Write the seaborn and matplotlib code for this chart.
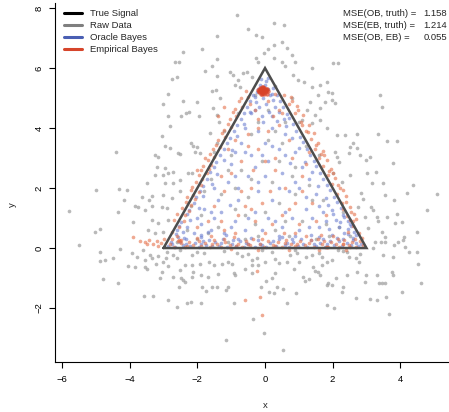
import numpy as np
import pandas as pd
import matplotlib
matplotlib.use("Agg")
import matplotlib.pyplot as plt
from matplotlib.lines import Line2D
import seaborn as sns

# true signal: triangle
triangle_x = [-3, 0, 3, -3]
triangle_y = [0, 6, 0, 0]

# raw data
raw_points = [
    # below the triangle
    (-5.5, 0.1), (-4.88, -0.13), (-4.88, -0.43), (-4.73, -0.4), (-4.8, -1.03), (-4.35, -1.17),
    (-4.5, -0.33), (-4.29, -0.03), (-4.05, -0.6), (-3.93, -0.17), (-3.85, -0.63), (-3.8, -0.3),
    (-3.6, -0.07), (-3.55, -0.4), (-3.55, -0.63), (-3.5, -0.7), (-3.58, -1.6), (-3.31, -1.6),
    (-3.4, -0.23), (-3.34, -0.33), (-3.22, -0.53), (-3.17, -0.27), (-3.05, -0.8), (-3.1, -1.0),
    (-3.02, -0.47), (-2.93, -0.33), (-2.87, -0.6), (-2.87, -1.73), (-2.72, -0.97), (-2.72, -0.23),
    (-2.6, -0.33), (-2.6, -1.97), (-2.54, -1.3), (-2.51, -0.73), (-2.48, -1.0), (-2.43, -1.07),
    (-2.37, -1.13), (-2.37, -0.57), (-2.31, -1.83), (-2.19, -1.8), (-2.16, -0.57), (-2.13, -0.8),
    (-2.16, -0.97), (-2.16, -0.23), (-2.01, -0.13), (-1.92, -0.53), (-1.89, -0.9), (-1.89, -1.83),
    (-1.86, -1.3), (-1.75, -1.43), (-1.69, -0.97), (-1.66, -0.47), (-1.57, -1.3), (-1.51, -0.57),
    (-1.42, -1.3), (-1.39, -0.87), (-1.27, -0.53), (-1.15, -3.07), (-1.15, -1.4), (-1.09, -1.3),
    (-1.09, -0.47), (-0.98, -0.53), (-0.92, -1.83), (-0.92, -0.83), (-0.89, -0.9), (-0.83, -0.17),
    (-0.68, -0.27), (-0.59, -0.7), (-0.38, -0.57), (-0.38, -0.83), (-0.36, -2.37), (-0.38, -0.4),
    (-0.03, -2.83), (0.53, -3.4), (0.65, -1.83), (1.83, -1.9), (2.04, -2.0), (3.67, -2.2),
    (3.3, -1.73), (-0.24, -0.33), (-0.2, -0.57), (0.0, -0.47), (0.03, -1.1), (0.2, -1.0),
    (0.3, -0.83), (0.35, -1.3), (-0.12, -1.3), (0.12, -1.47), (0.27, -1.5), (0.53, -1.37),
    (0.3, -0.37), (0.41, -0.5), (0.65, -0.47), (0.74, -0.23), (0.86, -0.7), (0.95, -0.17),
    (1.0, -0.47), (0.92, -1.5), (1.12, -0.97), (1.18, -1.1), (1.3, -1.03), (1.39, -0.23),
    (1.42, -0.63), (1.48, -0.77), (1.57, -0.8), (1.63, -0.9), (1.69, -0.3), (1.69, -0.57),
    (1.83, -0.47), (1.83, -1.23), (1.86, -1.17), (1.98, -1.23), (1.98, -0.4), (2.1, -1.0),
    (2.28, -1.47), (2.31, -1.3), (2.16, -0.07), (2.43, -0.13), (2.43, -0.9), (2.49, -0.3),
    (2.69, -0.33), (2.72, -0.8), (2.78, -0.47), (2.69, -1.67), (2.96, -1.13), (2.99, -0.9),
    (3.1, -1.7), (3.19, 0.0), (3.31, -0.9), (3.37, -1.17), (3.46, -1.17), (3.49, -0.23),
    (3.55, -1.17), (3.58, -1.63), (3.76, -0.8), (3.79, -0.9), (3.79, -0.3), (4.05, -1.47),
    (4.14, 0.03), (4.26, -0.13), (4.49, -0.13), (4.53, -0.53), (4.62, -1.17), (3.43, 0.2),
    (3.55, 0.2), (3.82, 0.1), (4.08, 0.27),
    (-2.5, -0.08), (-1.8, -0.15), (-1.2, -0.1), (-0.5, -0.2), (0.2, -0.12), (0.9, -0.08),
    (1.6, -0.16), (2.3, -0.1), (2.8, -0.2), (-2.9, -0.12), (-0.1, -0.05), (1.2, -0.3),
    # right of the triangle
    (1.63, 4.27), (1.83, 4.0), (2.13, 3.77), (2.37, 3.77), (2.72, 3.8), (3.34, 3.8),
    (3.61, 3.57), (3.9, 3.57), (2.51, 3.37), (2.6, 3.5), (2.72, 3.33), (2.81, 3.1),
    (2.99, 2.93), (3.1, 3.03), (2.13, 3.03), (2.07, 3.2), (2.19, 2.87), (2.49, 3.17),
    (3.79, 2.83), (3.02, 2.5), (3.28, 2.53), (2.51, 2.43), (2.28, 2.2), (3.16, 2.17),
    (3.49, 2.17), (4.38, 2.1), (5.09, 1.8), (4.2, 1.83), (3.55, 1.77), (2.84, 1.83),
    (2.9, 1.63), (3.82, 1.6), (4.79, 1.27), (3.9, 1.13), (2.96, 1.03), (3.31, 1.03),
    (3.61, 1.03), (3.34, 0.9), (4.05, 0.87), (3.85, 0.83), (4.49, 0.53), (3.05, 0.67),
    (3.46, 0.53), (3.55, 0.37), (4.11, 0.37), (3.25, 0.2), (3.93, 0.2), (2.75, 1.37),
    (3.13, 1.37), (3.19, 1.27),
    # above the triangle
    (-1.42, 7.07), (-2.43, 6.53), (-1.86, 6.63), (-2.66, 6.2), (-2.54, 6.2), (-2.75, 5.63),
    (-2.6, 5.7), (-2.87, 5.13), (-3.02, 4.8), (-2.43, 4.9), (-2.01, 4.87), (-2.87, 4.4),
    (-2.48, 4.4), (-2.34, 4.5), (-2.25, 4.53), (-1.95, 4.4), (-1.78, 5.9), (-1.57, 6.07),
    (-1.42, 6.3), (-1.42, 5.73), (-1.57, 5.23), (-1.45, 5.27), (-1.33, 5.0), (-1.54, 4.67),
    (-1.42, 4.43), (-0.83, 7.77), (0.27, 7.5), (0.56, 7.43), (-0.5, 7.3), (-0.27, 7.1),
    (-0.09, 7.03), (0.5, 6.87), (0.27, 6.77), (0.65, 6.67), (0.09, 6.63), (-0.03, 6.5),
    (-0.27, 6.33), (-0.21, 6.2), (0.27, 6.33), (0.5, 6.2), (0.8, 6.43), (0.89, 6.2),
    (0.59, 6.07), (2.01, 6.17), (2.16, 6.17), (1.39, 6.0), (-1.04, 5.87), (-0.95, 5.77),
    (-0.65, 5.83), (-0.53, 5.87), (-0.38, 5.7), (-0.8, 5.6), (-0.89, 5.43), (-0.74, 5.37),
    (0.83, 5.77), (0.98, 5.6), (1.15, 5.53), (1.39, 5.37), (1.63, 5.43), (1.83, 5.53),
    (1.86, 5.2), (1.57, 5.1), (1.98, 5.17), (1.78, 4.87), (1.98, 4.93), (2.07, 4.83),
    (1.33, 4.87), (1.24, 4.6), (1.48, 4.43), (1.63, 4.67), (1.09, 4.27), (1.39, 4.17),
    (3.4, 5.1), (3.46, 4.7),
    # left of the triangle
    (-2.81, 4.07), (-3.05, 3.73), (-4.41, 3.2), (-3.25, 3.1), (-2.96, 3.4), (-2.81, 3.33),
    (-2.57, 3.17), (-2.51, 3.13), (-2.19, 3.5), (-2.13, 3.4), (-2.01, 3.37), (-1.92, 3.17),
    (-2.07, 3.2), (-1.63, 3.83), (-1.42, 3.5), (-1.36, 4.2), (-3.17, 3.03), (-3.2, 2.7),
    (-2.96, 2.67), (-3.02, 2.43), (-3.25, 2.43), (-2.72, 2.53), (-2.87, 2.5), (-2.51, 2.27),
    (-2.28, 2.5), (-2.16, 2.5), (-2.72, 2.17), (-2.96, 2.17), (-3.49, 2.17), (-5.0, 1.93),
    (-4.32, 1.97), (-4.08, 1.93), (-4.17, 1.6), (-3.64, 1.7), (-3.34, 1.73), (-3.43, 1.6),
    (-3.02, 1.77), (-2.75, 1.67), (-2.51, 1.9), (-5.8, 1.23), (-4.35, 1.2), (-3.85, 1.4),
    (-3.76, 1.37), (-3.55, 1.27), (-3.34, 1.4), (-3.05, 1.37), (-2.9, 1.33), (-3.91, 0.87),
    (-3.34, 0.93), (-3.17, 0.83), (-2.87, 0.93), (-4.88, 0.63), (-5.03, 0.53), (-3.46, 0.6),
    (-3.25, 0.5), (-3.02, 0.53),
    # inside the triangle
    (-2.3, 0.6), (-1.9, 1.1), (-1.4, 0.7), (-0.9, 1.3), (-0.3, 0.8), (0.4, 1.5), (1.1, 0.9),
    (1.7, 1.6), (2.2, 0.7), (-1.6, 2.3), (-0.7, 2.6), (0.2, 2.2), (0.9, 2.7), (-0.4, 3.8),
    (0.5, 3.5), (-1.0, 3.1), (0.1, 4.6), (-0.3, 5.1), (0.3, 5.4), (1.2, 3.4), (-1.3, 1.8),
    (0.7, 0.4), (-0.6, 0.3), (1.5, 0.3), (-2.0, 0.3), (2.5, 0.4), (-2.6, 0.2), (0.0, 1.2),
    (1.3, 2.1), (-0.1, 2.9), (0.6, 4.2), (-0.8, 4.5), (-1.8, 1.9), (2.0, 2.5), (1.6, 3.1),
    (-1.2, 3.9), (0.9, 1.8), (-0.5, 1.7), (0.3, 0.6), (-1.1, 0.2), (1.9, 0.4), (2.3, 1.2),
    (-2.2, 1.4), (0.8, 5.0), (-0.2, 4.2), (0.4, 2.9), (-0.9, 2.0), (1.0, 4.2), (-1.5, 3.2),
    (0.1, 3.6), (-0.6, 1.1), (0.6, 0.9), (-1.7, 0.5), (1.8, 0.8), (-0.2, 0.4), (1.4, 1.6),
    (-1.1, 2.6), (0.3, 3.9), (-0.4, 2.3), (0.8, 2.4),
]

# oracle Bayes estimates
ob_points = [
    (-2.88, 0.06), (-2.74, 0.14), (-2.66, 0.04), (-2.52, 0.21), (-2.43, 0.09), (-2.33, 0.29),
    (-2.21, 0.06), (-2.07, 0.17), (-1.96, 0.05), (-1.83, 0.24), (-1.74, 0.11), (-1.58, 0.07),
    (-1.49, 0.19), (-1.37, 0.08), (-1.24, 0.31), (-1.13, 0.05), (-0.99, 0.15), (-0.87, 0.07),
    (-0.74, 0.23), (-0.62, 0.05), (-0.49, 0.13), (-0.31, 0.04), (-0.22, 0.27), (-0.09, 0.09),
    (0.04, 0.05), (0.16, 0.18), (0.33, 0.06), (0.42, 0.29), (0.58, 0.1), (0.71, 0.04),
    (0.84, 0.21), (0.97, 0.08), (1.11, 0.14), (1.24, 0.05), (1.37, 0.26), (1.52, 0.07),
    (1.64, 0.16), (1.76, 0.05), (1.91, 0.23), (2.04, 0.09), (2.13, 0.34), (2.27, 0.06),
    (2.41, 0.18), (2.53, 0.11), (2.61, 0.27), (2.76, 0.06), (2.85, 0.13), (-2.58, 0.38),
    (-1.15, 0.42), (0.88, 0.4), (1.98, 0.45), (2.35, 0.5),
    (-2.79, 0.2), (-2.35, 0.13), (-1.9, 0.12), (-1.66, 0.28), (-1.3, 0.16), (-0.94, 0.28),
    (-0.55, 0.18), (-0.15, 0.12), (0.25, 0.25), (0.65, 0.17), (1.05, 0.3), (1.44, 0.12),
    (1.83, 0.14), (2.2, 0.22), (2.7, 0.18), (-0.4, 0.35), (0.5, 0.38), (1.6, 0.38), (-1.9, 0.36),
    (-2.62, 0.48), (-2.42, 0.55), (-2.47, 0.88), (-2.22, 0.93), (-2.24, 1.28), (-1.96, 1.34),
    (-2.03, 1.69), (-1.82, 1.75), (-1.84, 2.08), (-1.56, 2.14), (-1.63, 2.52), (-1.41, 2.47),
    (-1.44, 2.88), (-1.2, 2.95), (-1.22, 3.31), (-0.99, 3.27), (-1.03, 3.68), (-0.82, 3.74),
    (-0.84, 4.09), (-0.61, 4.14), (-0.63, 4.49), (-0.44, 4.55), (-0.43, 4.91), (-0.26, 4.86),
    (-0.22, 5.31), (-0.07, 5.27), (-0.11, 5.62), (0.04, 5.58), (-0.15, 5.45), (-0.3, 5.05),
    (-2.55, 0.75), (-2.32, 1.12), (-2.1, 1.5), (-1.92, 1.9), (-1.72, 2.3), (-1.5, 2.7),
    (-1.32, 3.1), (-1.12, 3.5), (-0.92, 3.9), (-0.72, 4.3), (-0.52, 4.7), (-0.35, 5.1),
    (2.63, 0.52), (2.44, 0.47), (2.46, 0.91), (2.21, 0.86), (2.25, 1.32), (1.98, 1.27),
    (2.04, 1.71), (1.79, 1.66), (1.83, 2.11), (1.58, 2.07), (1.62, 2.49), (1.39, 2.54),
    (1.45, 2.91), (1.19, 2.86), (1.23, 3.29), (1.01, 3.34), (1.04, 3.71), (0.8, 3.66),
    (0.83, 4.12), (0.63, 4.07), (0.64, 4.48), (0.42, 4.53), (0.44, 4.89), (0.25, 4.94),
    (0.23, 5.33), (0.08, 5.29), (0.1, 5.66), (0.15, 5.1), (0.3, 4.7), (0.55, 4.3),
    (2.55, 0.72), (2.32, 1.1), (2.12, 1.52), (1.92, 1.92), (1.7, 2.3), (1.52, 2.72),
    (1.32, 3.1), (1.12, 3.52), (0.92, 3.9), (0.72, 4.32), (0.53, 4.7), (0.35, 5.1),
    (-0.05, 5.0), (0.02, 4.8), (-0.18, 4.7), (0.12, 4.55), (-0.08, 4.4), (0.2, 5.15),
    (-0.25, 5.2), (0.0, 5.45),
    (2.2, 0.7), (2.5, 0.8), (2.35, 1.05), (2.1, 0.95), (1.9, 0.65), (2.6, 0.35), (2.45, 0.65),
    (2.0, 1.15), (2.3, 0.3), (1.8, 0.9), (2.7, 0.42),
    (-2.3, 0.7), (-2.6, 0.6), (-2.1, 0.5), (-1.9, 0.8), (-2.4, 0.35), (-2.0, 1.0), (-1.7, 0.55),
    (-1.5, 1.0), (-0.8, 1.6), (0.3, 0.9), (1.2, 1.3), (0.5, 2.5), (-0.4, 3.1), (0.2, 4.0),
    (-1.1, 2.2), (1.6, 0.7), (1.5, 1.8), (-1.6, 0.6), (0.9, 3.2), (-0.2, 1.9), (0.7, 1.9),
    (-1.2, 0.5), (1.3, 2.3), (-0.6, 4.0), (0.35, 4.25), (0.0, 3.5), (-0.7, 3.5), (1.1, 2.7),
    (-1.4, 1.6), (1.0, 0.6), (-0.9, 0.9), (-0.1, 0.6), (0.6, 1.2), (-0.5, 2.4), (0.1, 2.9),
    (-1.0, 2.8), (0.8, 0.3), (-0.3, 1.2), (1.4, 1.0), (-1.8, 1.3), (0.4, 3.3), (-0.2, 3.9),
    (-0.8, 2.0), (0.2, 1.6), (-1.3, 1.2), (1.7, 1.2), (0.9, 2.2), (-0.6, 0.6), (0.5, 0.7),
    (-1.5, 2.0), (1.2, 1.7), (-0.4, 4.5), (0.6, 3.8), (-0.9, 3.2), (0.0, 2.4), (-1.9, 0.45),
    (1.85, 1.45), (-0.3, 2.7), (0.75, 2.85), (-0.05, 4.2), (-1.05, 1.45), (1.35, 0.45),
    (-1.0, 0.7), (0.1, 1.0), (1.3, 0.7), (-0.5, 1.0), (0.8, 1.0), (-1.6, 1.2), (1.6, 1.4),
    (-0.2, 2.2), (0.4, 2.0), (-0.9, 2.4), (1.0, 2.0), (-0.6, 3.2), (0.6, 3.1), (0.2, 3.4),
    (-0.3, 4.6), (0.2, 4.4), (-0.1, 3.1), (0.4, 0.4), (-0.8, 0.3), (1.7, 0.3),
]

# empirical Bayes estimates
eb_points = [
    (-2.82, 0.12), (-2.69, 0.05), (-2.57, 0.25), (-2.47, 0.16), (-2.38, 0.02), (-2.26, 0.2),
    (-2.14, 0.11), (-2.02, 0.32), (-1.88, 0.08), (-1.77, 0.18), (-1.63, 0.03), (-1.52, 0.27),
    (-1.41, 0.12), (-1.29, 0.05), (-1.18, 0.2), (-1.04, 0.1), (-0.93, 0.36), (-0.81, 0.14),
    (-0.68, 0.04), (-0.57, 0.22), (-0.43, 0.09), (-0.36, 0.3), (-0.14, 0.15), (-0.03, 0.03),
    (0.1, 0.24), (0.23, 0.11), (0.37, 0.19), (0.5, 0.04), (0.63, 0.28), (0.77, 0.13),
    (0.9, 0.06), (1.03, 0.25), (1.17, 0.1), (1.3, 0.17), (1.44, 0.03), (1.57, 0.3),
    (1.69, 0.12), (1.84, 0.05), (1.96, 0.2), (2.09, 0.14), (2.2, 0.04), (2.34, 0.26),
    (2.47, 0.09), (2.58, 0.19), (2.7, 0.05), (2.81, 0.22), (2.9, 0.1), (-0.2, -0.07),
    (0.7, -0.05), (1.6, -0.08), (-1.0, -0.04), (2.4, -0.06),
    (-2.75, 0.3), (-2.3, 0.08), (-1.95, 0.22), (-1.58, 0.14), (-1.22, 0.3), (-0.87, 0.06),
    (-0.5, 0.12), (-0.09, 0.3), (0.3, 0.06), (0.58, 0.18), (0.96, 0.14), (1.35, 0.28),
    (1.75, 0.22), (2.15, 0.3), (2.52, 0.03), (2.86, 0.32), (-2.6, 0.4), (2.0, 0.4),
    (-3.9, 0.37), (-3.7, 0.23), (-3.55, 0.2), (-3.42, 0.26), (-3.32, 0.14), (-3.2, 0.22),
    (-3.08, 0.18), (-2.98, 0.3), (-3.15, 0.08), (-3.5, 0.12),
    (-2.53, 0.28), (-2.49, 0.26), (-2.51, 0.25), (1.83, 0.03), (1.85, 0.05), (1.81, 0.04),
    (2.3, 0.15), (2.32, 0.13),
    (-2.75, 0.55), (-2.55, 0.7), (-2.68, 0.95), (-2.38, 1.1), (-2.45, 1.35), (-2.2, 1.45),
    (-2.3, 1.7), (-2.08, 1.62), (-2.18, 1.95), (-1.95, 1.88), (-2.05, 2.2), (-1.85, 2.3),
    (-1.95, 2.45), (-1.72, 2.5), (-1.82, 2.72), (-1.6, 2.78), (-1.7, 2.95), (-1.5, 3.05),
    (-1.55, 3.3), (-1.32, 3.38), (-1.38, 3.6), (-1.18, 3.7), (-1.22, 3.95), (-1.0, 4.05),
    (-1.05, 4.3), (-0.85, 4.4), (-0.88, 4.65), (-0.68, 4.7), (-0.7, 5.0), (-0.5, 5.05),
    (-1.9, 2.1), (-2.12, 1.78), (-1.66, 2.62), (-2.0, 2.6), (-1.78, 3.0),
    (-2.6, 1.15), (-2.35, 1.55), (-2.15, 2.05), (-1.88, 2.6), (-1.62, 3.15), (-1.45, 3.45),
    (-1.28, 3.85), (-1.1, 4.15), (-0.95, 4.55), (-0.78, 4.9), (-2.4, 0.9), (-2.25, 1.25),
    (2.78, 0.5), (2.6, 0.72), (2.7, 0.98), (2.42, 1.08), (2.5, 1.38), (2.28, 1.5),
    (2.38, 1.72), (2.12, 1.8), (2.22, 2.0), (1.98, 2.12), (2.08, 2.35), (1.86, 2.42),
    (1.95, 2.65), (1.72, 2.72), (1.82, 2.95), (1.6, 3.0), (1.7, 3.22), (1.48, 3.3),
    (1.58, 3.5), (1.36, 3.62), (1.45, 3.82), (1.22, 3.9), (1.3, 4.1), (1.06, 4.2),
    (1.12, 4.42), (0.9, 4.5), (0.95, 4.75), (0.72, 4.8), (0.78, 5.02), (0.55, 5.1),
    (2.55, 1.2), (2.3, 1.95), (2.0, 2.5), (1.75, 3.1), (2.6, 0.9), (2.45, 0.55), (2.65, 0.3),
    (2.62, 1.15), (2.4, 1.55), (2.16, 2.1), (1.9, 2.58), (1.65, 3.12), (1.5, 3.45),
    (1.28, 3.88), (1.1, 4.1), (0.98, 4.6), (0.8, 4.9), (2.5, 0.95), (2.3, 1.3),
    (-0.3, 4.6), (0.25, 4.4), (-0.45, 4.8), (0.1, 4.9), (-0.2, 4.3), (0.4, 4.6),
    (-0.55, 5.25), (0.3, 5.15),
    (-1.3, 0.9), (-0.6, 1.4), (0.5, 1.1), (1.4, 1.5), (0.3, 2.6), (-0.2, 3.3), (0.1, 3.9),
    (-1.0, 2.5), (1.0, 0.8), (-1.7, 0.9), (0.8, 3.0), (-0.4, 2.0), (0.6, 2.0), (-0.9, 0.5),
    (1.1, 2.4), (-0.5, 3.8), (0.4, 4.1), (-0.1, 1.5), (0.2, 0.8), (-1.2, 1.9), (1.5, 0.9),
    (-0.7, 2.9), (0.9, 1.5), (-1.5, 1.4), (0.0, 2.9), (1.3, 3.2), (-0.3, 0.9), (-1.1, 3.3),
    (0.7, 3.6), (1.8, 1.1), (-2.0, 0.7), (0.15, 1.9), (-0.8, 1.1), (1.2, 0.4), (-0.35, 2.6),
    (0.55, 0.5), (-1.6, 0.4), (1.65, 0.45),
    (-1.2, 0.6), (-0.4, 1.3), (0.7, 1.3), (1.1, 1.9), (-0.7, 1.9), (0.3, 3.0), (-0.5, 3.4),
    (0.5, 4.5), (-0.2, 4.0), (1.2, 2.8), (-1.3, 2.4), (0.0, 0.5), (0.9, 0.5), (-0.9, 3.6),
    (-1.21, 4.7), (-1.4, 4.4), (-0.59, -1.73), (-0.09, -2.23), (-0.24, -0.77), (-0.15, -1.63),
]

# many EB estimates collapse onto one spot just below the apex
eb_apex = [
    (-0.06, 5.25), (-0.18, 5.2), (0.06, 5.3), (-0.15, 5.35), (0.05, 5.15), (-0.1, 5.38),
    (-0.02, 5.12), (-0.2, 5.28), (0.08, 5.24), (-0.07, 5.24), (-0.12, 5.3), (-0.01, 5.2),
    (-0.06, 5.33), (-0.13, 5.15), (0.02, 5.3), (-0.08, 5.2), (-0.04, 5.27), (-0.1, 5.25),
    (-0.16, 5.26), (0.03, 5.22), (-0.05, 5.36), (-0.09, 5.13), (-0.14, 5.31), (0.0, 5.28),
    (-0.11, 5.19), (-0.03, 5.32), (-0.17, 5.23), (0.04, 5.26), (-0.08, 5.29), (-0.06, 5.17),
]

legend_labels = ["True Signal", "Raw Data", "Oracle Bayes", "Empirical Bayes"]
legend_colors = ["#000000", "#7f7f7f", "#4a5fb3", "#d6452b"]

mse_labels = ["MSE(OB, truth) =", "MSE(EB, truth) =", "MSE(OB, EB) ="]
mse_values = [1.158, 1.214, 0.055]

# ---------------------------------------------------------------
sns.set_style("ticks")
plt.rcParams["font.family"] = ["Liberation Sans", "DejaVu Sans"]

W, H = 449, 412
fig = plt.figure(figsize=(W / 100, H / 100), dpi=100)
ax = fig.add_axes([55 / W, 50 / H, 394 / W, 359 / H])

raw = pd.DataFrame(raw_points, columns=["x", "y"])
ob = pd.DataFrame(ob_points, columns=["x", "y"])
eb = pd.DataFrame(eb_points, columns=["x", "y"])
apex = pd.DataFrame(eb_apex, columns=["x", "y"])

sns.scatterplot(data=raw, x="x", y="y", ax=ax, color="#a2a2a2", alpha=0.75,
                s=7, linewidth=0, legend=False)
sns.scatterplot(data=ob, x="x", y="y", ax=ax, color="#6d7fd1", alpha=0.6,
                s=7, linewidth=0, legend=False)
sns.scatterplot(data=eb, x="x", y="y", ax=ax, color="#e5704a", alpha=0.6,
                s=7, linewidth=0, legend=False)
sns.scatterplot(data=apex, x="x", y="y", ax=ax, color="#d8432a", alpha=0.7,
                s=10, linewidth=0, legend=False)

ax.plot(triangle_x, triangle_y, color="#4d4d4d", lw=1.8, solid_joinstyle="miter", zorder=5)

ax.set_xlim(-6.21, 5.44)
ax.set_ylim(-3.8, 8.17)
ax.set_xticks([-6, -4, -2, 0, 2, 4])
ax.set_yticks([-2, 0, 2, 4, 6, 8])
ax.set_xlabel("")
ax.set_ylabel("")
for side in ["top", "right"]:
    ax.spines[side].set_visible(False)
for side in ["left", "bottom"]:
    ax.spines[side].set_linewidth(0.8)
    ax.spines[side].set_color("black")
ax.tick_params(direction="out", length=4.3, width=0.8, labelsize=6.8, colors="black")
ax.tick_params(axis="x", pad=5)
ax.tick_params(axis="y", pad=4)
for lab in ax.get_yticklabels():
    lab.set_rotation(90)
    lab.set_va("center")

fig.text(265 / W, 1 - 405 / H, "x", ha="center", va="center", fontsize=6.8)
fig.text(12 / W, 1 - 205 / H, "y", ha="center", va="center", fontsize=6.8, rotation=90)

# legend drawn by hand, no frame
for i, (lab, col) in enumerate(zip(legend_labels, legend_colors)):
    yy = 1 - (13 + 12 * i) / H
    fig.add_artist(Line2D([64 / W, 82 / W], [yy, yy], color=col, lw=2.2,
                          transform=fig.transFigure))
    fig.text(90 / W, yy, lab, ha="left", va="center", fontsize=6.8)

for i, (lab, val) in enumerate(zip(mse_labels, mse_values)):
    yy = 1 - (13 + 12 * i) / H
    fig.text(343 / W, yy, lab, ha="left", va="center", fontsize=6.8)
    fig.text(447 / W, yy, f"{val:.3f}", ha="right", va="center", fontsize=6.8)

fig.savefig("out.png", dpi=100)
